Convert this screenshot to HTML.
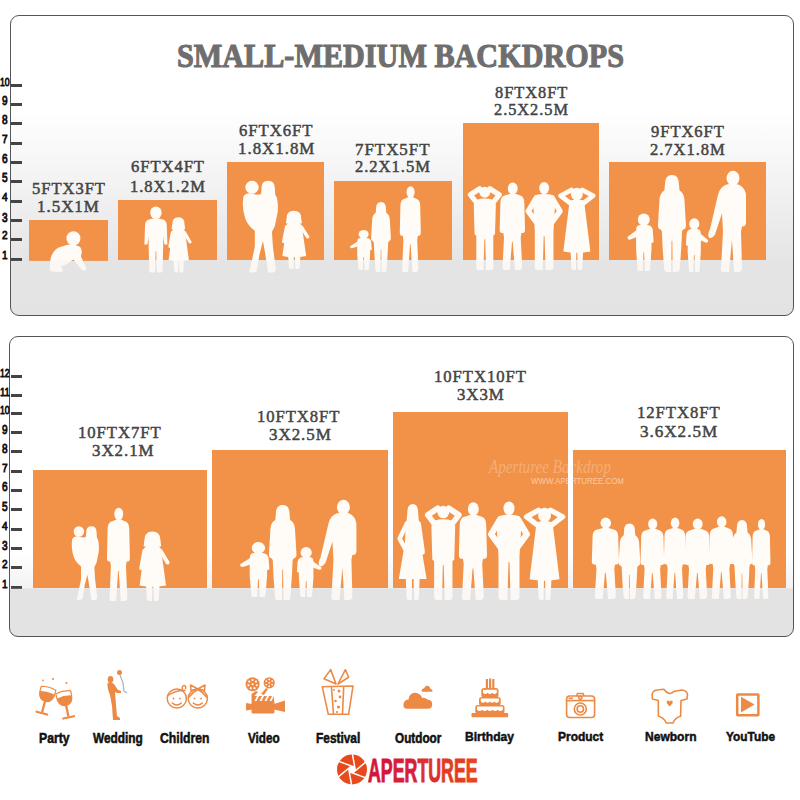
<!DOCTYPE html>
<html><head><meta charset="utf-8">
<style>
html,body{margin:0;padding:0;background:#fff;width:800px;height:800px;overflow:hidden;position:relative;}
*{box-sizing:border-box;}
.panel{position:absolute;border:1.3px solid #555;border-radius:9px;overflow:hidden;}
#p1{left:10px;top:15px;width:784px;height:301px;background:linear-gradient(#fff 0px,#fff 95px,#e5e5e5 245px,#e3e3e3 300px);}
#p2{left:9px;top:336px;width:785px;height:301px;background:linear-gradient(#fff 0px,#fff 215px,#f2f2f2 251px,#e3e3e3 252px,#e3e3e3 300px);}
.r{position:absolute;background:#f29249;}
.t{position:absolute;font-family:"Liberation Serif",serif;font-weight:bold;color:#4a4a4a;white-space:nowrap;transform-origin:0 0;}
.tick{position:absolute;left:11px;width:11px;height:3px;background:#444;}
.num{position:absolute;font-family:"Liberation Sans",sans-serif;font-weight:normal;-webkit-text-stroke:0.75px #111;font-size:11px;line-height:11px;color:#111;white-space:nowrap;transform-origin:0 0;}
.lab{position:absolute;font-family:"Liberation Sans",sans-serif;font-weight:bold;color:#111;white-space:nowrap;transform-origin:0 0;}
.logo{position:absolute;font-family:"Liberation Sans",sans-serif;font-weight:bold;white-space:nowrap;transform-origin:0 0;}
.wm{position:absolute;white-space:nowrap;transform-origin:0 0;color:rgba(255,240,225,0.6);}
svg{position:absolute;left:0;top:0;overflow:visible;}
</style></head><body>
<div id="p1" class="panel"></div>
<div id="p2" class="panel"></div>

<div class="r" style="left:29.0px;top:220.0px;width:78.5px;height:40.5px"></div>
<div class="r" style="left:118.0px;top:200.0px;width:98.7px;height:60.0px"></div>
<div class="r" style="left:227.2px;top:162.3px;width:96.9px;height:97.7px"></div>
<div class="r" style="left:334.2px;top:181.2px;width:117.4px;height:78.8px"></div>
<div class="r" style="left:462.5px;top:123.2px;width:136.7px;height:136.8px"></div>
<div class="r" style="left:609.0px;top:161.7px;width:157.0px;height:98.3px"></div>
<div class="r" style="left:33.0px;top:470.0px;width:174.0px;height:118.0px"></div>
<div class="r" style="left:212.0px;top:450.0px;width:176.0px;height:138.0px"></div>
<div class="r" style="left:393.0px;top:412.0px;width:174.8px;height:176.0px"></div>
<div class="r" style="left:573.0px;top:450.0px;width:213.3px;height:138.0px"></div>
<div class="tick" style="top:84.0px"></div>
<div class="tick" style="top:102.5px"></div>
<div class="tick" style="top:121.5px"></div>
<div class="tick" style="top:141.5px"></div>
<div class="tick" style="top:160.5px"></div>
<div class="tick" style="top:179.5px"></div>
<div class="tick" style="top:199.5px"></div>
<div class="tick" style="top:219.0px"></div>
<div class="tick" style="top:237.5px"></div>
<div class="tick" style="top:257.5px"></div>
<div class="tick" style="top:375.0px"></div>
<div class="tick" style="top:394.0px"></div>
<div class="tick" style="top:411.8px"></div>
<div class="tick" style="top:431.0px"></div>
<div class="tick" style="top:450.0px"></div>
<div class="tick" style="top:470.0px"></div>
<div class="tick" style="top:488.8px"></div>
<div class="tick" style="top:508.0px"></div>
<div class="tick" style="top:527.7px"></div>
<div class="tick" style="top:547.0px"></div>
<div class="tick" style="top:565.8px"></div>
<div class="tick" style="top:586.0px"></div>
<div class="num" id="n1_10" style="left:0.00px;top:74.89px;font-size:11.00px;line-height:13.20px;transform:scale(0.7917,1.0556);">10</div>
<div class="num" id="n1_9" style="left:2.00px;top:93.12px;font-size:11.00px;line-height:13.20px;transform:scale(0.9167,1.1875);">9</div>
<div class="num" id="n1_8" style="left:2.00px;top:112.12px;font-size:11.00px;line-height:13.20px;transform:scale(0.9167,1.1875);">8</div>
<div class="num" id="n1_7" style="left:2.00px;top:132.39px;font-size:11.00px;line-height:13.20px;transform:scale(0.9167,1.0556);">7</div>
<div class="num" id="n1_6" style="left:2.00px;top:151.12px;font-size:11.00px;line-height:13.20px;transform:scale(0.9167,1.1875);">6</div>
<div class="num" id="n1_5" style="left:2.00px;top:170.12px;font-size:11.00px;line-height:13.20px;transform:scale(0.9167,1.1875);">5</div>
<div class="num" id="n1_4" style="left:2.00px;top:190.39px;font-size:11.00px;line-height:13.20px;transform:scale(0.9167,1.0556);">4</div>
<div class="num" id="n1_3" style="left:2.00px;top:209.62px;font-size:11.00px;line-height:13.20px;transform:scale(0.9167,1.1875);">3</div>
<div class="num" id="n1_2" style="left:2.00px;top:228.39px;font-size:11.00px;line-height:13.20px;transform:scale(0.9167,1.0556);">2</div>
<div class="num" id="n1_1" style="left:2.00px;top:248.39px;font-size:11.00px;line-height:13.20px;transform:scale(0.9167,1.0556);">1</div>
<div class="num" id="n2_12" style="left:0.00px;top:365.89px;font-size:11.00px;line-height:13.20px;transform:scale(0.7917,1.0556);">12</div>
<div class="num" id="n2_11" style="left:0.00px;top:384.89px;font-size:11.00px;line-height:13.20px;transform:scale(0.8636,1.0556);">11</div>
<div class="num" id="n2_10" style="left:0.00px;top:402.69px;font-size:11.00px;line-height:13.20px;transform:scale(0.7917,1.0556);">10</div>
<div class="num" id="n2_9" style="left:2.00px;top:421.62px;font-size:11.00px;line-height:13.20px;transform:scale(0.9167,1.1875);">9</div>
<div class="num" id="n2_8" style="left:2.00px;top:440.62px;font-size:11.00px;line-height:13.20px;transform:scale(0.9167,1.1875);">8</div>
<div class="num" id="n2_7" style="left:2.00px;top:460.89px;font-size:11.00px;line-height:13.20px;transform:scale(0.9167,1.0556);">7</div>
<div class="num" id="n2_6" style="left:2.00px;top:479.43px;font-size:11.00px;line-height:13.20px;transform:scale(0.9167,1.1875);">6</div>
<div class="num" id="n2_5" style="left:2.00px;top:498.62px;font-size:11.00px;line-height:13.20px;transform:scale(0.9167,1.1875);">5</div>
<div class="num" id="n2_4" style="left:2.00px;top:518.59px;font-size:11.00px;line-height:13.20px;transform:scale(0.9167,1.0556);">4</div>
<div class="num" id="n2_3" style="left:2.00px;top:537.62px;font-size:11.00px;line-height:13.20px;transform:scale(0.9167,1.1875);">3</div>
<div class="num" id="n2_2" style="left:2.00px;top:556.69px;font-size:11.00px;line-height:13.20px;transform:scale(0.9167,1.0556);">2</div>
<div class="num" id="n2_1" style="left:2.00px;top:576.89px;font-size:11.00px;line-height:13.20px;transform:scale(0.9167,1.0556);">1</div>
<div class="t" id="title" style="left:176.68px;top:35.51px;font-size:37.00px;line-height:44.40px;transform:scale(0.8159,0.9056);color:#6e6e6e;-webkit-text-stroke:1.2px #6e6e6e;">SMALL-MEDIUM BACKDROPS</div>
<div class="t" id="s0" style="left:31.53px;top:178.62px;font-size:17.00px;line-height:20.40px;transform:scale(0.9730,1.0000);letter-spacing:1px;font-weight:normal;-webkit-text-stroke:0.5px #444;color:#444;">5FTX3FT</div>
<div class="t" id="s1" style="left:37.00px;top:197.12px;font-size:17.00px;line-height:20.40px;transform:scale(0.9959,1.0000);letter-spacing:1px;font-weight:normal;-webkit-text-stroke:0.5px #444;color:#444;">1.5X1M</div>
<div class="t" id="s2" style="left:131.00px;top:157.25px;font-size:17.00px;line-height:20.40px;transform:scale(0.9733,1.0000);letter-spacing:1px;font-weight:normal;-webkit-text-stroke:0.5px #444;color:#444;">6FTX4FT</div>
<div class="t" id="s3" style="left:130.03px;top:176.75px;font-size:17.00px;line-height:20.40px;transform:scale(0.9737,1.0000);letter-spacing:1px;font-weight:normal;-webkit-text-stroke:0.5px #444;color:#444;">1.8X1.2M</div>
<div class="t" id="s4" style="left:239.00px;top:120.50px;font-size:17.00px;line-height:20.40px;transform:scale(0.9800,1.0000);letter-spacing:1px;font-weight:normal;-webkit-text-stroke:0.5px #444;color:#444;">6FTX6FT</div>
<div class="t" id="s5" style="left:237.51px;top:139.00px;font-size:17.00px;line-height:20.40px;transform:scale(0.9934,1.0000);letter-spacing:1px;font-weight:normal;-webkit-text-stroke:0.5px #444;color:#444;">1.8X1.8M</div>
<div class="t" id="s6" style="left:355.01px;top:139.70px;font-size:17.00px;line-height:20.40px;transform:scale(0.9946,1.0000);letter-spacing:1px;font-weight:normal;-webkit-text-stroke:0.5px #444;color:#444;">7FTX5FT</div>
<div class="t" id="s7" style="left:355.00px;top:157.30px;font-size:17.00px;line-height:20.40px;transform:scale(0.9740,1.0000);letter-spacing:1px;font-weight:normal;-webkit-text-stroke:0.5px #444;color:#444;">2.2X1.5M</div>
<div class="t" id="s8" style="left:494.60px;top:82.95px;font-size:17.00px;line-height:20.40px;transform:scale(0.9640,1.0000);letter-spacing:1px;font-weight:normal;-webkit-text-stroke:0.5px #444;color:#444;">8FTX8FT</div>
<div class="t" id="s9" style="left:493.50px;top:100.17px;font-size:17.00px;line-height:20.40px;transform:scale(0.9623,1.0000);letter-spacing:1px;font-weight:normal;-webkit-text-stroke:0.5px #444;color:#444;">2.5X2.5M</div>
<div class="t" id="s10" style="left:650.90px;top:122.00px;font-size:17.00px;line-height:20.40px;transform:scale(0.9720,1.0000);letter-spacing:1px;font-weight:normal;-webkit-text-stroke:0.5px #444;color:#444;">9FTX6FT</div>
<div class="t" id="s11" style="left:650.30px;top:139.50px;font-size:17.00px;line-height:20.40px;transform:scale(0.9714,1.0000);letter-spacing:1px;font-weight:normal;-webkit-text-stroke:0.5px #444;color:#444;">2.7X1.8M</div>
<div class="t" id="s12" style="left:78.30px;top:422.00px;font-size:17.50px;line-height:21.00px;transform:scale(0.9535,1.0000);letter-spacing:1px;font-weight:normal;-webkit-text-stroke:0.5px #444;color:#444;">10FTX7FT</div>
<div class="t" id="s13" style="left:92.04px;top:440.00px;font-size:17.50px;line-height:21.00px;transform:scale(0.9643,1.0000);letter-spacing:1px;font-weight:normal;-webkit-text-stroke:0.5px #444;color:#444;">3X2.1M</div>
<div class="t" id="s14" style="left:257.45px;top:406.00px;font-size:17.50px;line-height:21.00px;transform:scale(0.9488,1.0000);letter-spacing:1px;font-weight:normal;-webkit-text-stroke:0.5px #444;color:#444;">10FTX8FT</div>
<div class="t" id="s15" style="left:268.53px;top:423.50px;font-size:17.50px;line-height:21.00px;transform:scale(0.9683,1.0000);letter-spacing:1px;font-weight:normal;-webkit-text-stroke:0.5px #444;color:#444;">3X2.5M</div>
<div class="t" id="s16" style="left:434.05px;top:366.00px;font-size:17.50px;line-height:21.00px;transform:scale(0.9521,1.0000);letter-spacing:1px;font-weight:normal;-webkit-text-stroke:0.5px #444;color:#444;">10FTX10FT</div>
<div class="t" id="s17" style="left:456.54px;top:383.75px;font-size:17.50px;line-height:21.00px;transform:scale(0.9604,1.0000);letter-spacing:1px;font-weight:normal;-webkit-text-stroke:0.5px #444;color:#444;">3X3M</div>
<div class="t" id="s18" style="left:636.85px;top:401.65px;font-size:17.50px;line-height:21.00px;transform:scale(0.9535,1.0000);letter-spacing:1px;font-weight:normal;-webkit-text-stroke:0.5px #444;color:#444;">12FTX8FT</div>
<div class="t" id="s19" style="left:640.22px;top:421.00px;font-size:17.50px;line-height:21.00px;transform:scale(0.9769,1.0000);letter-spacing:1px;font-weight:normal;-webkit-text-stroke:0.5px #444;color:#444;">3.6X2.5M</div>
<div class="lab" id="l0" style="left:39.06px;top:729.67px;font-size:13.00px;line-height:15.60px;transform:scale(0.9375,1.1111);-webkit-text-stroke:0.5px #111;">Party</div>
<div class="lab" id="l1" style="left:92.50px;top:729.67px;font-size:13.00px;line-height:15.60px;transform:scale(0.9120,1.1111);-webkit-text-stroke:0.5px #111;">Wedding</div>
<div class="lab" id="l2" style="left:160.00px;top:729.67px;font-size:13.00px;line-height:15.60px;transform:scale(0.9375,1.1111);-webkit-text-stroke:0.5px #111;">Children</div>
<div class="lab" id="l3" style="left:248.00px;top:729.83px;font-size:13.00px;line-height:15.60px;transform:scale(0.9000,1.0556);-webkit-text-stroke:0.5px #111;">Video</div>
<div class="lab" id="l4" style="left:316.09px;top:729.83px;font-size:13.00px;line-height:15.60px;transform:scale(0.9149,1.0556);-webkit-text-stroke:0.5px #111;">Festival</div>
<div class="lab" id="l5" style="left:395.00px;top:729.83px;font-size:13.00px;line-height:15.60px;transform:scale(0.9038,1.0556);-webkit-text-stroke:0.5px #111;">Outdoor</div>
<div class="lab" id="l6" style="left:465.32px;top:729.00px;font-size:13.00px;line-height:15.60px;transform:scale(0.9279,1.0000);-webkit-text-stroke:0.5px #111;">Birthday</div>
<div class="lab" id="l7" style="left:557.83px;top:728.87px;font-size:13.00px;line-height:15.60px;transform:scale(0.9219,1.0111);-webkit-text-stroke:0.5px #111;">Product</div>
<div class="lab" id="l8" style="left:645.32px;top:728.87px;font-size:13.00px;line-height:15.60px;transform:scale(0.9259,1.0111);-webkit-text-stroke:0.5px #111;">Newborn</div>
<div class="lab" id="l9" style="left:725.60px;top:728.87px;font-size:13.00px;line-height:15.60px;transform:scale(0.9148,1.0111);-webkit-text-stroke:0.5px #111;">YouTube</div>
<svg width="800" height="800" viewBox="0 0 800 800" style="position:absolute;left:0;top:0">
<defs>
<symbol id="f_m" viewBox="0 0 40 100" preserveAspectRatio="none" style="overflow:visible"><circle cx="21" cy="7.5" r="6.8"/>
<path d="M15 14 Q21 12 27 14 L33 16 Q37 18 37 24 L38 54 Q38 58 35 58 L33 58 L32 63 L34 96 Q34 100 30 100 L24 100 L21 68 L20 68 L17 100 L10 100 Q6 100 7 96 L9 63 L8 58 L6 58 Q3 58 3 54 L4 24 Q4 18 8 16 Z"/></symbol>
<symbol id="f_w" viewBox="0 0 40 100" preserveAspectRatio="none" style="overflow:visible"><path d="M11 10 Q11 0.5 20 0.5 Q29 0.5 29 10 L31 28 Q20 31 9 28 Z"/>
<path d="M11 16 Q20 13 29 16 Q35 18 36 25 L38 52 Q38 56 35 56 L33 58 L32 75 L30 97 Q30 100 26 100 L21 100 L20.5 68 L19.5 68 L19 100 L14 100 Q10 100 10 97 L8 75 L7 58 L5 56 Q2 56 2 52 L4 25 Q5 18 11 16 Z"/></symbol>
<symbol id="f_mh" viewBox="0 0 40 100" preserveAspectRatio="none" style="overflow:visible"><circle cx="20" cy="9" r="6.5"/>
<path d="M11 22 L3 12 L14 5 M29 22 L37 12 L26 5" fill="none" stroke="#fffcf7" stroke-linecap="round" stroke-linejoin="round" stroke-width="6"/>
<path d="M10 18 Q20 15 30 18 Q33 20 33 24 L32 58 L30 60 L30 97 Q30 100 27 100 L21.5 100 L20.5 64 L19.5 64 L18.5 100 L13 100 Q10 100 10 97 L10 60 L8 58 L7 24 Q7 20 10 18 Z"/></symbol>
<symbol id="f_mk" viewBox="0 0 40 100" preserveAspectRatio="none" style="overflow:visible"><ellipse cx="20" cy="8" rx="5.3" ry="6.8"/>
<path d="M11 20 L3 34 L12 47 M29 20 L37 34 L28 47" fill="none" stroke="#fffcf7" stroke-linecap="round" stroke-linejoin="round" stroke-width="6"/>
<path d="M10 16 Q20 13 30 16 Q32 18 32 22 L30 56 L30 97 Q30 100 27 100 L21.5 100 L20.5 62 L19.5 62 L18.5 100 L13 100 Q10 100 10 97 L10 56 L8 22 Q8 18 10 16 Z"/></symbol>
<symbol id="f_wh" viewBox="0 0 40 100" preserveAspectRatio="none" style="overflow:visible"><ellipse cx="20" cy="10" rx="6.5" ry="7.5"/>
<path d="M13 21 L2 12 L14 5 M27 21 L38 12 L26 5" fill="none" stroke="#fffcf7" stroke-linecap="round" stroke-linejoin="round" stroke-width="5.5"/>
<path d="M12 18 Q20 15 28 18 L30 35 L35 78 Q20 81 5 78 L10 35 Z"/>
<path d="M13 76 L14 98 Q14 100 17 100 L19 100 L19.5 76Z M20.5 76 L21 100 L24 100 Q26 100 26 98 L27 76 Z"/></symbol>
<symbol id="f_wd" viewBox="0 0 40 100" preserveAspectRatio="none" style="overflow:visible"><path d="M14 9 Q14 0 21 0 Q28 0 28 9 L30 28 L12 28Z"/>
<path d="M13 21 L4 36 L12 48 M29 21 L34 50" fill="none" stroke="#fffcf7" stroke-linecap="round" stroke-linejoin="round" stroke-width="5.5"/>
<path d="M12 18 Q21 15 30 18 L31 40 L39 78 L3 78 L11 40 Z"/>
<path d="M12 76 L13 98 Q13 100 16 100 L20 100 L20 76 Z M22 76 L23 100 L27 100 Q29 100 29 98 L30 76 Z"/></symbol>
<symbol id="f_g" viewBox="0 0 40 100" preserveAspectRatio="none" style="overflow:visible"><path d="M8 14 Q8 2 18 2 Q28 2 28 14 L29 23 Q18 27 7 23 Z"/>
<path d="M10 23 Q18 20 26 23 Q29 25 29 30 L31 45 L35 78 Q18 82 2 78 L6 45 L7 30 Q7 25 10 23 Z"/>
<path d="M8 29 L4 54 M28 29 L37 46" fill="none" stroke="#fffcf7" stroke-linecap="round" stroke-linejoin="round" stroke-width="5"/>
<path d="M10 76 L11 97 Q11 100 14 100 L17.5 100 L18 76 Z M19 76 L20 100 L24 100 Q26 100 26 97 L27 76 Z"/></symbol>
<symbol id="f_cr" viewBox="0 0 40 100" preserveAspectRatio="none" style="overflow:visible"><ellipse cx="24" cy="11.5" rx="8.5" ry="10.5"/>
<path d="M15 22 Q24 18 33 22 Q37 25 37 32 L38 50 L35 52 L35 62 L33 97 Q33 100 30 100 L25.5 100 L24.5 68 L23.5 68 L22.5 100 L18 100 Q15 100 15 97 L13 62 L13 42 L4 46 Q0 46 1 41 L13 30 Q13 24 15 22 Z"/></symbol>
<symbol id="f_b" viewBox="0 0 40 100" preserveAspectRatio="none" style="overflow:visible"><circle cx="20" cy="10.5" r="9.5"/>
<path d="M7 21 Q20 17 33 21 Q38 23 38 30 L39 58 L34 58 L32 46 L32 60 L31 97 Q31 100 28 100 L21.5 100 L20.5 68 L19.5 68 L18.5 100 L12 100 Q9 100 9 97 L8 60 L8 46 L6 58 L1 58 L2 30 Q2 23 7 21 Z"/></symbol>
<symbol id="f_wc" viewBox="0 0 40 100" preserveAspectRatio="none" style="overflow:visible"><path d="M22 9 Q22 1 29 1 Q36 1 36 9 L37 24 L21 24 Z"/>
<circle cx="12" cy="8" r="7"/>
<path d="M3 18 Q6 13 13 15 Q18 17 22 15 Q30 12 37 17 Q40 22 39 35 L36 50 L33 56 L34 72 L37 96 Q37 100 33 100 L29 100 L25 74 L23.5 66 L20 80 L17 98 Q16 100 13 100 L10 100 Q8 99 10 96 L15 72 L15 55 Q8 50 5 42 Q1 30 3 18 Z"/></symbol>
<symbol id="f_mhold" viewBox="0 0 40 100" preserveAspectRatio="none" style="overflow:visible"><ellipse cx="26" cy="7.5" rx="6.5" ry="7.2"/>
<path d="M19 14 Q26 12 32 14 Q38 17 39 24 L39 52 Q38 56 35 55 L34 60 L35 97 Q35 100 31 100 L27 100 L25 68 L22 100 L17 100 Q13 100 14 97 L16 60 L15 42 L8 63 Q5 68 2 66 Q0 63 3 58 L11 24 Q13 16 19 14 Z"/></symbol>
<symbol id="f_baby" viewBox="0 0 100 100" preserveAspectRatio="none" style="overflow:visible"><circle cx="62" cy="20" r="17"/>
<path d="M45 36 Q60 32 78 40 Q86 50 80 62 L92 88 Q96 96 88 97 Q82 96 78 90 L62 70 L50 78 Q40 86 32 86 L36 94 Q38 100 28 100 L12 99 Q2 97 4 88 L6 70 Q10 50 25 42 Z"/></symbol>
<symbol id="f_crR" viewBox="0 0 40 100" preserveAspectRatio="none" style="overflow:visible"><g transform="translate(40 0) scale(-1 1)"><ellipse cx="24" cy="11.5" rx="8.5" ry="10.5"/>
<path d="M15 22 Q24 18 33 22 Q37 25 37 32 L38 50 L35 52 L35 62 L33 97 Q33 100 30 100 L25.5 100 L24.5 68 L23.5 68 L22.5 100 L18 100 Q15 100 15 97 L13 62 L13 42 L4 46 Q0 46 1 41 L13 30 Q13 24 15 22 Z"/></g></symbol>
</defs><g fill="#fffcf7">
<use href="#f_baby" x="48.0" y="230.0" width="41.0" height="42.0"/>
<use href="#f_b" x="143.8" y="205.8" width="24.2" height="66.8"/>
<use href="#f_g" x="167.4" y="216.2" width="24.5" height="56.2"/>
<use href="#f_wc" x="240.6" y="179.8" width="38.0" height="92.8"/>
<use href="#f_g" x="280.9" y="209.5" width="28.9" height="59.5"/>
<use href="#f_cr" x="349.6" y="229.6" width="23.4" height="40.4"/>
<use href="#f_w" x="370.0" y="201.6" width="22.0" height="70.4"/>
<use href="#f_m" x="398.0" y="185.6" width="24.0" height="86.4"/>
<use href="#f_mh" x="467.8" y="184.5" width="34.0" height="85.5"/>
<use href="#f_m" x="497.5" y="182.0" width="29.0" height="88.0"/>
<use href="#f_mk" x="525.5" y="181.0" width="37.3" height="89.0"/>
<use href="#f_wh" x="558.8" y="185.7" width="36.1" height="84.3"/>
<use href="#f_cr" x="627.0" y="213.0" width="28.0" height="58.0"/>
<use href="#f_w" x="656.4" y="174.6" width="31.1" height="97.4"/>
<use href="#f_crR" x="684.7" y="217.8" width="23.9" height="54.2"/>
<use href="#f_mhold" x="707.0" y="170.5" width="40.0" height="101.5"/>
<use href="#f_wc" x="70.0" y="525.5" width="29.5" height="74.5"/>
<use href="#f_m" x="105.0" y="507.0" width="26.2" height="94.0"/>
<use href="#f_g" x="138.0" y="530.0" width="32.0" height="71.0"/>
<use href="#f_cr" x="239.5" y="541.5" width="31.5" height="55.5"/>
<use href="#f_w" x="267.4" y="504.6" width="30.6" height="95.4"/>
<use href="#f_crR" x="295.6" y="546.6" width="26.4" height="50.4"/>
<use href="#f_mhold" x="317.5" y="499.5" width="39.9" height="100.5"/>
<use href="#f_wd" x="396.5" y="504.0" width="30.9" height="96.0"/>
<use href="#f_mh" x="425.0" y="503.4" width="36.6" height="96.6"/>
<use href="#f_m" x="456.5" y="501.6" width="32.1" height="98.4"/>
<use href="#f_mk" x="488.0" y="500.4" width="42.0" height="99.6"/>
<use href="#f_wh" x="524.6" y="505.5" width="39.9" height="94.5"/>
<use href="#f_m" x="589.5" y="517.0" width="31.0" height="82.0"/>
<use href="#f_w" x="617.5" y="523.0" width="24.0" height="76.0"/>
<use href="#f_m" x="638.5" y="518.0" width="27.0" height="81.0"/>
<use href="#f_m" x="662.0" y="517.0" width="25.0" height="82.0"/>
<use href="#f_m" x="682.5" y="518.0" width="29.0" height="81.0"/>
<use href="#f_m" x="707.0" y="515.7" width="28.0" height="83.3"/>
<use href="#f_w" x="730.5" y="519.7" width="23.0" height="79.3"/>
<use href="#f_m" x="750.5" y="518.4" width="21.0" height="80.6"/>
</g>
<rect x="11" y="260.5" width="782" height="14" fill="#e4e5e8" fill-opacity="0.18"/>
<rect x="10" y="588" width="783" height="14" fill="#e4e5e8" fill-opacity="0.18"/>
</svg>
<svg width="800" height="800" viewBox="0 0 800 800" style="position:absolute;left:0;top:0">
<g transform="translate(47 694) rotate(15)"><path d="M-7.8 -1 Q-7 7.5 0 7.5 Q7 7.5 7.8 -1 Q0 -3 -7.8 -1 Z" fill="#ec8a45"/><path d="M-7.5 -6 Q-8.5 7.5 0 7.5 Q8.5 7.5 7.5 -6 Q0 -8 -7.5 -6 Z" fill="none" stroke="#ec8a45" stroke-width="1.2"/><line x1="0" y1="7" x2="0" y2="19" stroke="#ec8a45" stroke-width="2.3"/><line x1="-5.5" y1="19.8" x2="5.5" y2="19.8" stroke="#ec8a45" stroke-width="2.2" stroke-linecap="round"/></g>
<g transform="translate(64.5 698) rotate(-12)"><path d="M-7.8 -1 Q-7 7.5 0 7.5 Q7 7.5 7.8 -1 Q0 -3 -7.8 -1 Z" fill="#ec8a45"/><path d="M-7.5 -6 Q-8.5 7.5 0 7.5 Q8.5 7.5 7.5 -6 Q0 -8 -7.5 -6 Z" fill="none" stroke="#ec8a45" stroke-width="1.2"/><line x1="0" y1="7" x2="0" y2="19" stroke="#ec8a45" stroke-width="2.3"/><line x1="-5.5" y1="19.8" x2="5.5" y2="19.8" stroke="#ec8a45" stroke-width="2.2" stroke-linecap="round"/></g>
<g fill="#ec8a45"><circle cx="53" cy="679" r="1.1"/><circle cx="66.4" cy="683" r="1"/><circle cx="43" cy="680.4" r="0.9"/></g>
<g fill="#ec8a45">
<ellipse cx="110.5" cy="679.5" rx="2.8" ry="3.4"/>
<path d="M107.5 683 Q111 681 114 684 L118 690 L121 691 L121 693 L117 693 L115 692 L116 705 L117 716 L120 718 L120 720 L113 720 L112 706 L110 695 Q107 688 107.5 683 Z"/>
<circle cx="119.5" cy="672.5" r="2.5"/>
</g>
<path d="M120 675 L123 683 L124 691 L127 693" fill="none" stroke="#9aa3b5" stroke-width="1.3" opacity="0.8"/>
<g fill="none" stroke="#ec8a45" stroke-width="1.5" stroke-linecap="round" stroke-linejoin="round">
<circle cx="176.8" cy="698.5" r="9.6"/><circle cx="197.8" cy="698.5" r="9.6"/>
<path d="M167.8 695.5 Q176 690 185 690.5"/><path d="M182.5 690 Q181.5 686 184 685.5 Q186.5 686 185.5 688.5"/>
<path d="M197.8 689.5 Q193 692 189 697 M197.8 689.5 Q203 692 206.5 697"/>
<path d="M197.8 689 L190.5 685 L191 690.5 Z M197.8 689 L205 685 L204.5 690.5 Z"/>
<path d="M172.3 703 Q176.8 707 181.3 703"/><path d="M193.3 703 Q197.8 707 202.3 703"/>
</g>
<g fill="#ec8a45"><circle cx="173.5" cy="698.5" r="0.9"/><circle cx="180" cy="698.5" r="0.9"/><circle cx="194.5" cy="698.5" r="0.9"/><circle cx="201" cy="698.5" r="0.9"/></g>
<g fill="#ec8a45">
<circle cx="252.6" cy="684.3" r="7"/><circle cx="269.2" cy="682.8" r="5.6"/>
<rect x="251.5" y="700.5" width="23" height="13" rx="1.5"/>
<path d="M274 704 L285 700.5 L285 712 L274 709.5 Z"/>
<path d="M246 703 L252 704 L252 709.5 L246 710.5 Z"/>
<path d="M251.5 701 L251.5 694 L256 691 L258 692 L254.5 696 L274 696 L274 701 Z"/>
<path d="M261 694 L266 688 L268 689 L264 695 Z"/>
</g>
<g fill="#fff">
<circle cx="252.6" cy="684.3" r="1.05"/>
<circle cx="252.60" cy="680.00" r="1.05"/>
<circle cx="255.96" cy="681.62" r="1.05"/>
<circle cx="256.79" cy="685.26" r="1.05"/>
<circle cx="254.47" cy="688.17" r="1.05"/>
<circle cx="250.73" cy="688.17" r="1.05"/>
<circle cx="248.41" cy="685.26" r="1.05"/>
<circle cx="249.24" cy="681.62" r="1.05"/>
<circle cx="269.2" cy="682.8" r="0.85"/>
<circle cx="269.20" cy="679.40" r="0.85"/>
<circle cx="272.14" cy="681.10" r="0.85"/>
<circle cx="272.14" cy="684.50" r="0.85"/>
<circle cx="269.20" cy="686.20" r="0.85"/>
<circle cx="266.26" cy="684.50" r="0.85"/>
<circle cx="266.26" cy="681.10" r="0.85"/>
<path d="M254.5 701 L257 696 L259 696 L256.5 701 Z M259.5 701 L262 696 L264 696 L261.5 701 Z M264.5 701 L267 696 L269 696 L266.5 701 Z M269.5 701 L272 696 L274 696 L271.5 701 Z"/>
</g>
<g fill="none" stroke="#ec8a45" stroke-width="1.6" stroke-linejoin="round">
<path d="M322.3 686.8 L353 686 L348.6 714.3 L328.3 714.3 Z"/>
<path d="M331.4 686.6 L333.5 714.3 M343.7 686.3 L342.5 714.3"/>
<path d="M336 684 L330.7 669.6 L324 678.7 Z M338 684 L345.4 669.6 L348.6 677.3 Z"/>
</g>
<g fill="#ec8a45"><circle cx="334" cy="690" r="0.9"/><circle cx="339" cy="691" r="1.5"/><circle cx="340" cy="697" r="1.4"/><circle cx="335.5" cy="701" r="1.3"/><circle cx="338.5" cy="707" r="1.6"/><circle cx="337" cy="712" r="1.1"/></g>
<g fill="#ec8a45">
<path d="M406.5 708.7 Q402.6 708.5 403.6 703.5 Q404.8 699.6 408.6 699.6 Q409.2 693 415.2 692.8 Q420.2 693 422.2 698 Q425.2 697.2 427.4 699.6 Q432.2 700 432.2 704.2 Q432.2 708.7 428 708.7 Z"/>
<path d="M421.8 691.8 Q421 688.8 424 688.2 Q425.6 685.3 427.8 685.8 Q430.2 686.8 430.6 689 Q433.2 689.6 432.2 691.8 Z"/>
</g>
<g fill="#ec8a45">
<rect x="485.8" y="679" width="2.2" height="10"/><rect x="489" y="678.5" width="2.2" height="10.5"/><rect x="492.2" y="679" width="2.2" height="10"/>
<rect x="481.3" y="688" width="17.2" height="9.5" rx="2.5"/>
<rect x="479" y="697" width="21.7" height="8.6" rx="2.5"/>
<rect x="475.3" y="705" width="29.2" height="8.8" rx="2.5"/>
<rect x="471.5" y="713" width="36.7" height="4.2" rx="1"/>
</g>
<g fill="#fff">
<path d="M483.00 689.80 L496.80 689.80 L496.80 692.80 Q494.50 695.30 492.20 692.80 Q489.90 695.30 487.60 692.80 Q485.30 695.30 483.00 692.80 Z"/>
<path d="M480.80 698.60 L498.90 698.60 L498.90 701.50 Q496.64 704.00 494.38 701.50 Q492.11 704.00 489.85 701.50 Q487.59 704.00 485.33 701.50 Q483.06 704.00 480.80 701.50 Z"/>
<path d="M477.00 706.60 L502.80 706.60 L502.80 709.80 Q500.22 712.30 497.64 709.80 Q495.06 712.30 492.48 709.80 Q489.90 712.30 487.32 709.80 Q484.74 712.30 482.16 709.80 Q479.58 712.30 477.00 709.80 Z"/>
</g>
<g fill="none" stroke="#ec8a45" stroke-width="1.6">
<rect x="566.6" y="696" width="28" height="21.5" rx="3"/>
<path d="M566.6 700.6 L594.6 700.6"/>
<path d="M576.5 696 L577.5 693.5 L583 693.5 L584 696"/>
<circle cx="580.3" cy="709" r="6"/><circle cx="580.3" cy="709" r="3.2"/><circle cx="580.3" cy="697.8" r="1.6"/>
<path d="M568.5 698.3 L573 698.3"/>
</g>
<g fill="none" stroke="#ec8a45" stroke-width="1.6" stroke-linejoin="round" stroke-linecap="round">
<path d="M663.8 689.3 Q669 696.5 674.5 691.2 L682 690 Q687.5 691 687.5 695 L687 699 L681 700.5 L680.6 716.2 Q675.2 717.5 673 723 L666.3 723 Q664 717.5 658.4 716.2 L658.3 700.5 L652.5 699 L652 695 Q652.5 690.5 657 690 Z"/>
</g>
<path d="M669.7 706.5 L666.8 703.2 Q666 701 668 700.6 Q669.3 700.6 669.7 701.8 Q670.1 700.6 671.4 700.6 Q673.4 701 672.6 703.2 Z" fill="#ec8a45"/>
<rect x="737.2" y="694.4" width="21.2" height="20.9" fill="none" stroke="#ec8a45" stroke-width="2.5" rx="0.5"/>
<path d="M741 696.8 L741 712.6 L754.5 704.4 Z" fill="#ec8a45"/>
<circle cx="352" cy="769.5" r="15" fill="#e64a1d"/>
<path d="M352.63 773.05 L365.64 762.13 M349.24 771.81 L365.20 777.62 M348.62 768.27 L351.57 784.99 M351.37 765.95 L338.36 776.87 M354.76 767.19 L338.80 761.38 M355.38 770.73 L352.43 754.01" fill="none" stroke="#fff" stroke-width="1.5"/>
<polygon points="355.38,770.73 352.63,773.05 349.24,771.81 348.62,768.27 351.37,765.95 354.76,767.19" fill="#fff"/>
<defs><linearGradient id="lg" x1="0" x2="1" y1="0" y2="0"><stop offset="0" stop-color="#d2173d"/><stop offset="0.45" stop-color="#d82a34"/><stop offset="1" stop-color="#e8461c"/></linearGradient></defs>
</svg>
<div class="wm" id="wm1" style="left:489.00px;top:456.45px;font-size:16.00px;line-height:19.20px;transform:scale(0.9457,1.1364);font-family:'Liberation Serif',serif;font-style:italic;color:rgba(255,235,215,0.32);">Aperturee Backdrop</div>
<div class="wm" id="wm2" style="left:531.20px;top:475.90px;font-size:9.00px;line-height:10.80px;transform:scale(0.8781,1.0500);font-family:'Liberation Sans',sans-serif;">WWW.APERTUREE.COM</div>
<div class="logo" id="logo" style="left:367.80px;top:750.00px;font-size:30.00px;line-height:36.00px;transform:scale(0.5924,1.1250);"><span style="color:#d3173c;-webkit-text-stroke:0.9px #d3173c">AP</span><span style="color:#d61f38;-webkit-text-stroke:0.9px #d61f38">ER</span><span style="color:#dc3030;-webkit-text-stroke:0.9px #dc3030">TU</span><span style="color:#e33c24;-webkit-text-stroke:0.9px #e33c24">RE</span><span style="color:#e8461c;-webkit-text-stroke:0.9px #e8461c">E</span></div>
</body></html>
